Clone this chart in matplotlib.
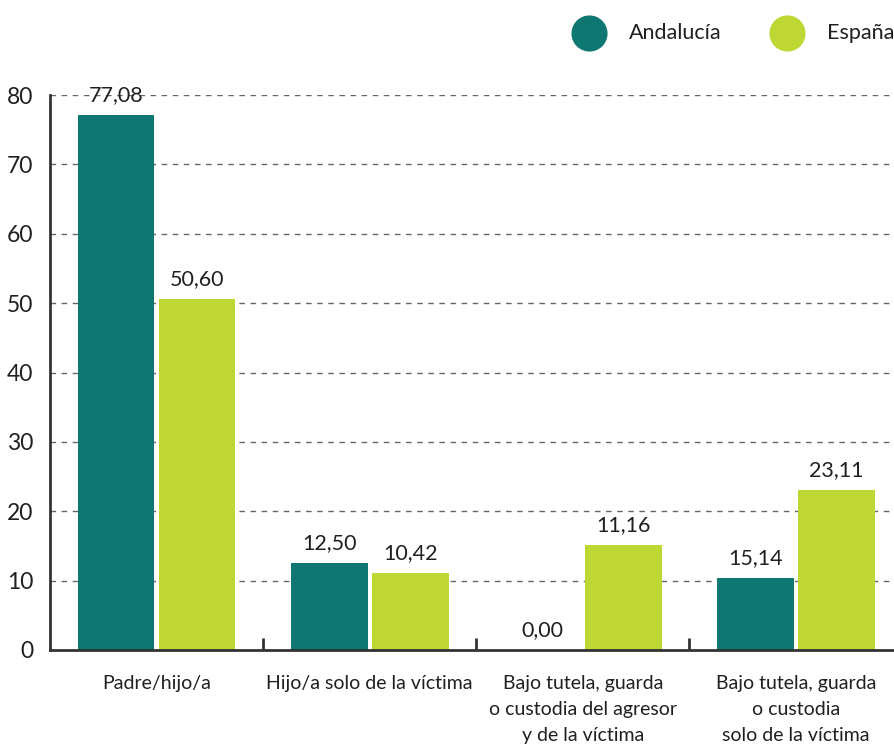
import numpy as np
import matplotlib.pyplot as plt
from matplotlib.lines import Line2D

plt.rcParams['font.family'] = ['Lato', 'DejaVu Sans']

categories = ['Padre/hijo/a', 'Hijo/a solo de la víctima',
              'Bajo tutela, guarda\no custodia del agresor\ny de la víctima',
              'Bajo tutela, guarda\no custodia\nsolo de la víctima']
series = ['Andalucía', 'España']
# bar heights as drawn in the picture
andalucia = [77.08, 12.50, 0.00, 10.42]
espana = [50.60, 11.16, 15.14, 23.11]
# value labels as printed above the bars
andalucia_labels = ['77,08', '12,50', '0,00', '15,14']
espana_labels = ['50,60', '10,42', '11,16', '23,11']
yticks = [0, 10, 20, 30, 40, 50, 60, 70, 80]

teal = '#0e7772'
lime = '#bed732'
txt = '#231f20'

fig = plt.figure(figsize=(8.94, 7.47), dpi=100)
ax = fig.add_axes([50/894, 97/747, 1 - 50/894, (650-95)/747])

x = np.arange(len(categories))
w = 0.36
off = 0.19
b1 = ax.bar(x - off, andalucia, w, color=teal, zorder=3)
b2 = ax.bar(x + off, espana, w, color=lime, zorder=3)

for bars, labs in ((b1, andalucia_labels), (b2, espana_labels)):
    for b, lab in zip(bars, labs):
        ax.annotate(lab, (b.get_x() + b.get_width()/2, b.get_height()),
                    xytext=(0, 7), textcoords='offset points',
                    ha='center', va='bottom', fontsize=15.5, color=txt,
                    annotation_clip=False, zorder=4)

ax.set_xlim(-0.5, 3.46)
ax.set_ylim(0, 80)
ax.set_yticks(yticks)
ax.set_yticklabels([str(t) for t in yticks], fontsize=16.5, color=txt)
ax.tick_params(axis='y', length=0, pad=12)

ax.set_xticks(x)
ax.set_xticklabels(categories, fontsize=14, color=txt, linespacing=1.65)
ax.tick_params(axis='x', which='major', length=0, pad=18)
ax.set_xticks([0.5, 1.5, 2.5], minor=True)
ax.tick_params(axis='x', which='minor', direction='in', length=9,
               width=2, color='#333333')

for t in yticks[1:]:
    ax.axhline(t, color='#666666', lw=1, ls=(0, (4, 4)), zorder=1)

for s in ('top', 'right'):
    ax.spines[s].set_visible(False)
for s in ('left', 'bottom'):
    ax.spines[s].set_linewidth(2)
    ax.spines[s].set_color('#333333')
ax.spines['bottom'].set_zorder(5)

# legend drawn by hand at the top right
for xc, col, name in ((589, teal, series[0]), (787, lime, series[1])):
    fig.add_artist(Line2D([xc/894], [1 - 33/747], marker='o', markersize=25,
                          color=col, transform=fig.transFigure))
    fig.text((xc + 40)/894, 1 - 33/747, name, fontsize=15.5, color=txt,
             va='center', ha='left')

fig.savefig('out.png', dpi=100)
